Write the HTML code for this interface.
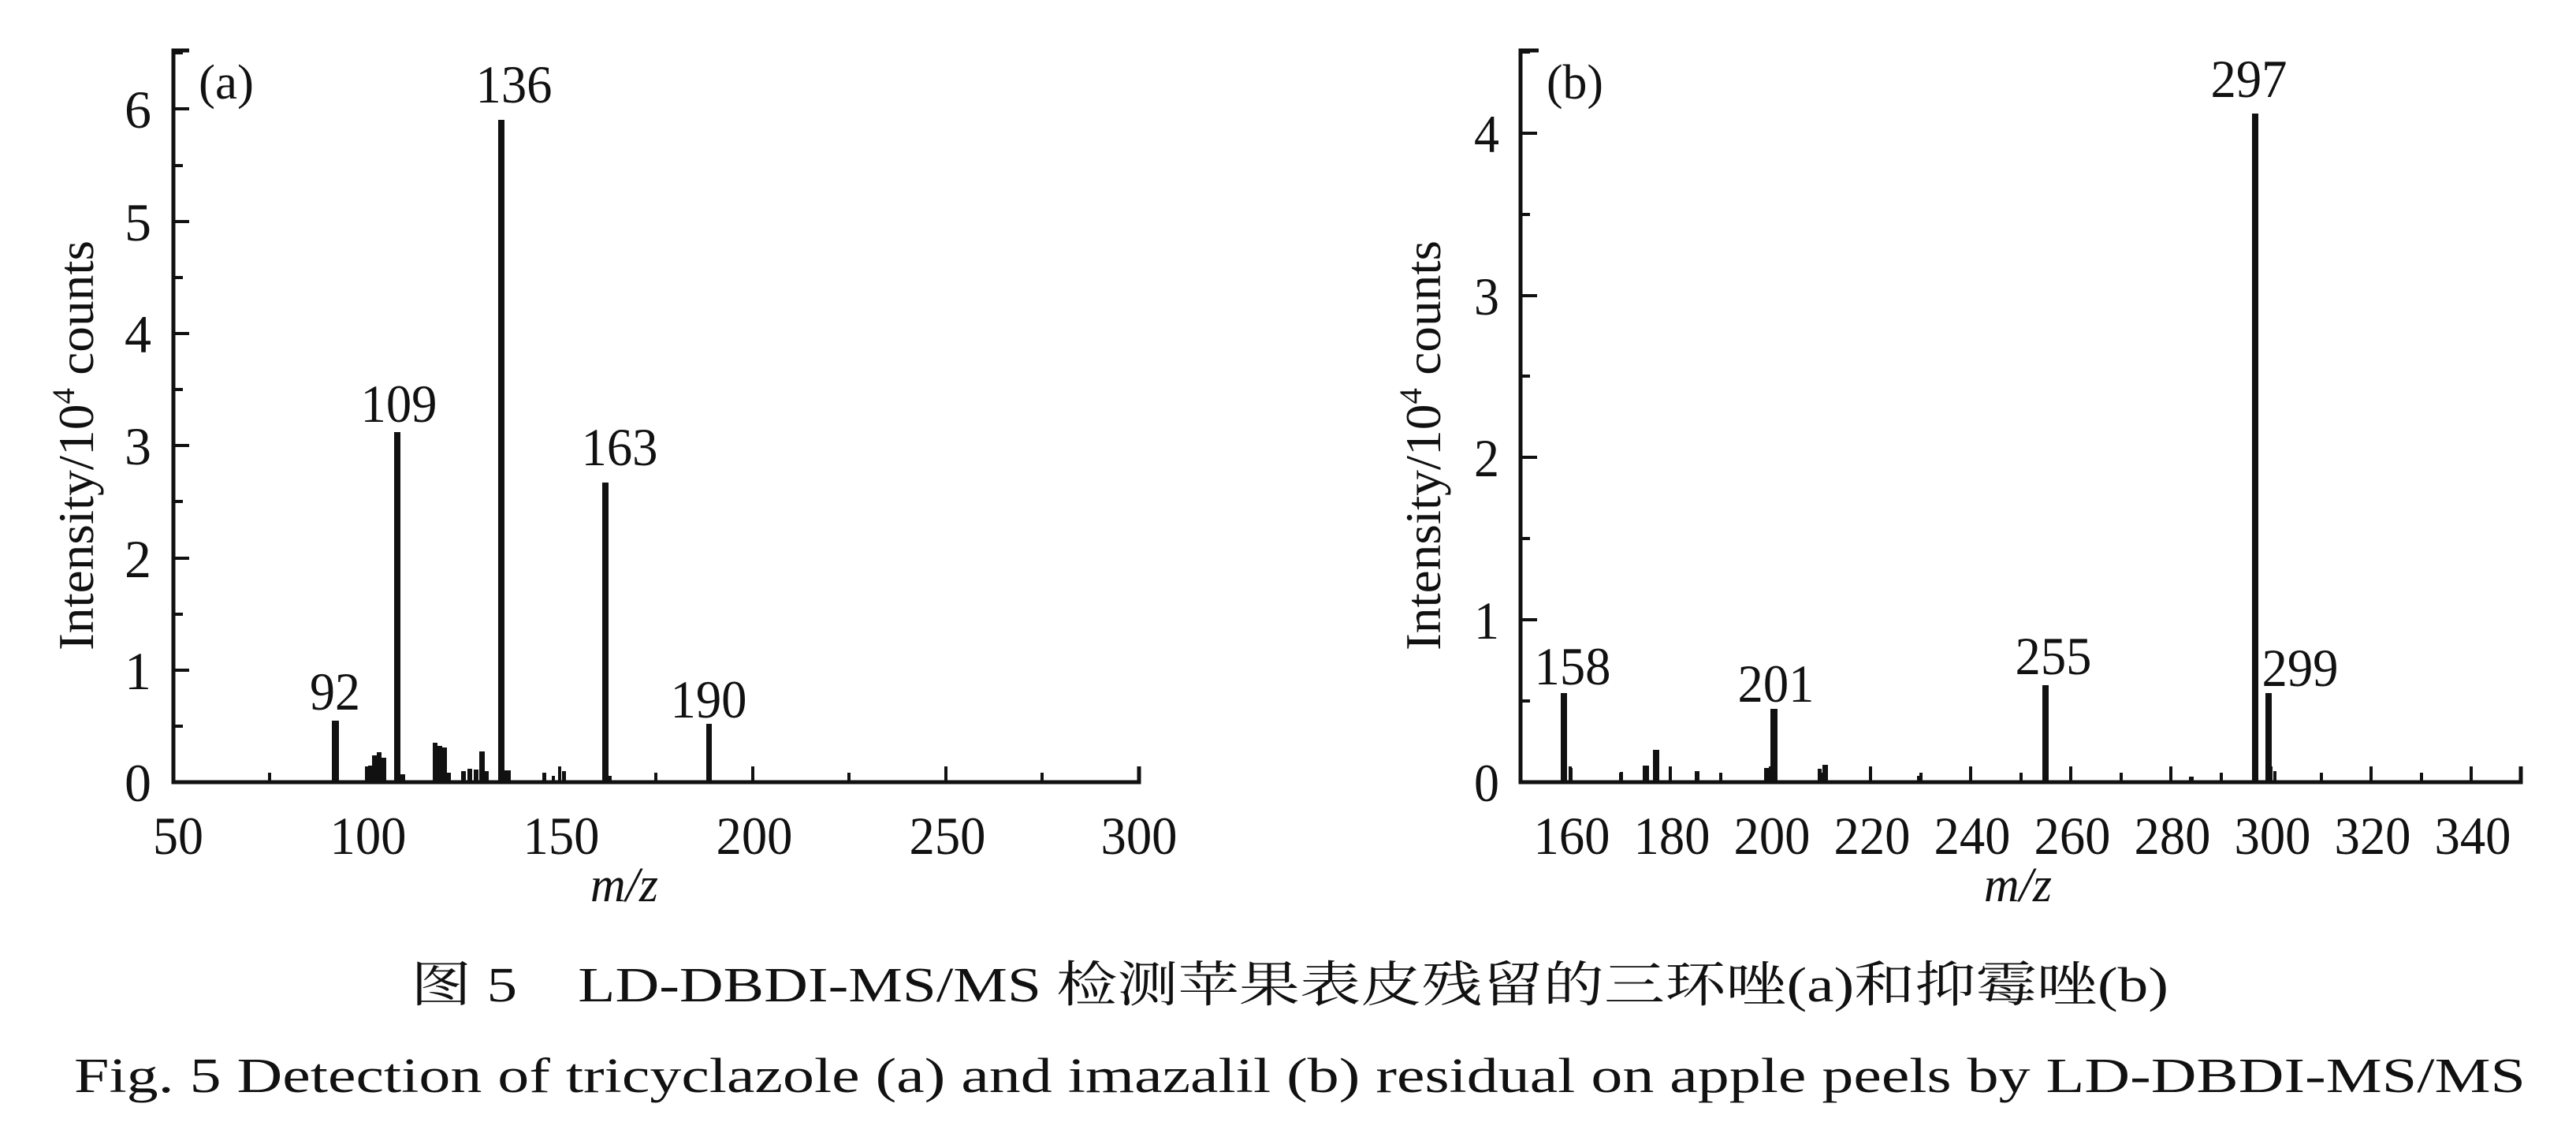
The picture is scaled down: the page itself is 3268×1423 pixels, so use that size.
<!DOCTYPE html>
<html><head><meta charset="utf-8"><style>
html,body{margin:0;padding:0;background:#fff;}
svg{display:block;}
text{font-family:"Liberation Serif","Noto Serif CJK SC",serif;fill:#111;}
</style></head><body>
<svg width="3268" height="1423" viewBox="0 0 3268 1423" xmlns="http://www.w3.org/2000/svg">
<g stroke="#111" fill="none">
<path d="M240,64 H220 V992 H1445 V972" stroke-width="5"/>
<g stroke-width="4">
<path d="M220,992 H240 M220,850 H240 M220,708 H240 M220,565 H240 M220,423 H240 M220,281 H240 M220,138 H240"/>
<path d="M220,921 H232 M220,779 H232 M220,636 H232 M220,494 H232 M220,352 H232 M220,210 H232 M220,67 H232"/>
<path d="M465,992 V972 M710,992 V972 M955,992 V972 M1200,992 V972"/>
<path d="M342,992 V980 M587,992 V980 M832,992 V980 M1077,992 V980 M1322,992 V980"/>
</g>
<path d="M1952,64 H1929 V992 H3198 V972" stroke-width="5"/>
<g stroke-width="4">
<path d="M1929,992 H1950 M1929,786 H1950 M1929,580 H1950 M1929,375 H1950 M1929,169 H1950"/>
<path d="M1929,889 H1941 M1929,683 H1941 M1929,477 H1941 M1929,272 H1941 M1929,66 H1941"/>
<path d="M1992,992 V972 M2119,992 V972 M2246,992 V972 M2373,992 V972 M2500,992 V972 M2627,992 V972 M2754,992 V972 M2881,992 V972 M3008,992 V972 M3135,992 V972"/>
<path d="M2056,992 V980 M2183,992 V980 M2310,992 V980 M2437,992 V980 M2564,992 V980 M2691,992 V980 M2818,992 V980 M2945,992 V980 M3072,992 V980"/>
</g>
</g>
<g fill="#111">
<rect x="421" y="914" width="9" height="78"/>
<rect x="467" y="971" width="5" height="21"/>
<rect x="472" y="958" width="6" height="34"/>
<rect x="478" y="954" width="6" height="38"/>
<rect x="484" y="961" width="6" height="31"/>
<rect x="500" y="548" width="8" height="444"/>
<rect x="508" y="982" width="6" height="10"/>
<rect x="549" y="942" width="6" height="50"/>
<rect x="555" y="946" width="6" height="46"/>
<rect x="561" y="948" width="6" height="44"/>
<rect x="567" y="980" width="5" height="12"/>
<rect x="585" y="978" width="6" height="14"/>
<rect x="593" y="975" width="6" height="17"/>
<rect x="601" y="976" width="6" height="16"/>
<rect x="608" y="953" width="7" height="39"/>
<rect x="615" y="978" width="5" height="14"/>
<rect x="632" y="152" width="8" height="840"/>
<rect x="640" y="977" width="8" height="15"/>
<rect x="688" y="980" width="5" height="12"/>
<rect x="700" y="984" width="4" height="8"/>
<rect x="713" y="978" width="5" height="14"/>
<rect x="764" y="612" width="8" height="380"/>
<rect x="772" y="984" width="4" height="8"/>
<rect x="896" y="918" width="7" height="74"/>
</g>
<g fill="#111">
<rect x="1980" y="879" width="8" height="113"/>
<rect x="1991" y="974" width="4" height="18"/>
<rect x="2055" y="979" width="4" height="13"/>
<rect x="2084" y="971" width="8" height="21"/>
<rect x="2097" y="951" width="8" height="41"/>
<rect x="2150" y="978" width="6" height="14"/>
<rect x="2238" y="974" width="6" height="18"/>
<rect x="2246" y="899" width="9" height="93"/>
<rect x="2306" y="975" width="5" height="17"/>
<rect x="2312" y="970" width="7" height="22"/>
<rect x="2432" y="984" width="6" height="8"/>
<rect x="2591" y="869" width="8" height="123"/>
<rect x="2777" y="985" width="6" height="7"/>
<rect x="2857" y="144" width="8" height="848"/>
<rect x="2874" y="879" width="8" height="113"/>
<rect x="2884" y="978" width="4" height="14"/>
</g>
<g font-size="68" text-anchor="end" lengthAdjust="spacingAndGlyphs">
<text x="192" y="1016" textLength="32">0</text><text x="192" y="874" textLength="32">1</text><text x="192" y="732" textLength="32">2</text>
<text x="192" y="589" textLength="32">3</text><text x="192" y="447" textLength="32">4</text><text x="192" y="305" textLength="32">5</text><text x="192" y="162" textLength="32">6</text>
</g>
<g font-size="68" text-anchor="middle">
<text x="226" y="1083" textLength="64" lengthAdjust="spacingAndGlyphs">50</text><text x="467" y="1083" textLength="97" lengthAdjust="spacingAndGlyphs">100</text><text x="712" y="1083" textLength="97" lengthAdjust="spacingAndGlyphs">150</text>
<text x="957" y="1083" textLength="97" lengthAdjust="spacingAndGlyphs">200</text><text x="1202" y="1083" textLength="97" lengthAdjust="spacingAndGlyphs">250</text><text x="1445" y="1083" textLength="97" lengthAdjust="spacingAndGlyphs">300</text>
</g>
<g font-size="68" text-anchor="end">
<text x="1902" y="1016" textLength="32" lengthAdjust="spacingAndGlyphs">0</text><text x="1902" y="810" textLength="32" lengthAdjust="spacingAndGlyphs">1</text><text x="1902" y="604" textLength="32" lengthAdjust="spacingAndGlyphs">2</text>
<text x="1902" y="399" textLength="32" lengthAdjust="spacingAndGlyphs">3</text><text x="1902" y="193" textLength="32" lengthAdjust="spacingAndGlyphs">4</text>
</g>
<g font-size="68" text-anchor="middle">
<text x="1994" y="1083" textLength="97" lengthAdjust="spacingAndGlyphs">160</text><text x="2121" y="1083" textLength="97" lengthAdjust="spacingAndGlyphs">180</text><text x="2248" y="1083" textLength="97" lengthAdjust="spacingAndGlyphs">200</text>
<text x="2375" y="1083" textLength="97" lengthAdjust="spacingAndGlyphs">220</text><text x="2502" y="1083" textLength="97" lengthAdjust="spacingAndGlyphs">240</text><text x="2629" y="1083" textLength="97" lengthAdjust="spacingAndGlyphs">260</text>
<text x="2756" y="1083" textLength="97" lengthAdjust="spacingAndGlyphs">280</text><text x="2883" y="1083" textLength="97" lengthAdjust="spacingAndGlyphs">300</text><text x="3010" y="1083" textLength="97" lengthAdjust="spacingAndGlyphs">320</text>
<text x="3137" y="1083" textLength="97" lengthAdjust="spacingAndGlyphs">340</text>
</g>
<g font-size="68" text-anchor="middle">
<text x="425" y="900" textLength="64" lengthAdjust="spacingAndGlyphs">92</text><text x="506" y="535" textLength="97" lengthAdjust="spacingAndGlyphs">109</text><text x="652" y="130" textLength="97" lengthAdjust="spacingAndGlyphs">136</text>
<text x="786" y="590" textLength="97" lengthAdjust="spacingAndGlyphs">163</text><text x="899" y="910" textLength="97" lengthAdjust="spacingAndGlyphs">190</text>
<text x="1995" y="868" textLength="97" lengthAdjust="spacingAndGlyphs">158</text><text x="2253" y="890" textLength="97" lengthAdjust="spacingAndGlyphs">201</text><text x="2605" y="855" textLength="97" lengthAdjust="spacingAndGlyphs">255</text>
<text x="2853" y="123" textLength="97" lengthAdjust="spacingAndGlyphs">297</text><text x="2918" y="870" textLength="97" lengthAdjust="spacingAndGlyphs">299</text>
</g>
<text x="252" y="125" font-size="62" textLength="70" lengthAdjust="spacingAndGlyphs">(a)</text>
<text x="1962" y="125" font-size="62" textLength="72" lengthAdjust="spacingAndGlyphs">(b)</text>
<text transform="translate(118,565) rotate(-90)" font-size="64" text-anchor="middle" textLength="520" lengthAdjust="spacingAndGlyphs">Intensity/10<tspan font-size="40" dy="-24">4</tspan><tspan dy="24"> counts</tspan></text>
<text transform="translate(1827,565) rotate(-90)" font-size="64" text-anchor="middle" textLength="520" lengthAdjust="spacingAndGlyphs">Intensity/10<tspan font-size="40" dy="-24">4</tspan><tspan dy="24"> counts</tspan></text>
<text x="792" y="1143" font-size="62" font-style="italic" text-anchor="middle">m/z</text>
<text x="2560" y="1143" font-size="62" font-style="italic" text-anchor="middle">m/z</text>
<text x="521" y="1270" font-size="62" textLength="2230" lengthAdjust="spacingAndGlyphs">图 5　LD-DBDI-MS/MS 检测苹果表皮残留的三环唑(a)和抑霉唑(b)</text>
<text x="94" y="1385" font-size="62" textLength="3110" lengthAdjust="spacingAndGlyphs">Fig. 5  Detection of tricyclazole (a) and imazalil (b) residual on apple peels by LD-DBDI-MS/MS</text>
</svg>
</body></html>
